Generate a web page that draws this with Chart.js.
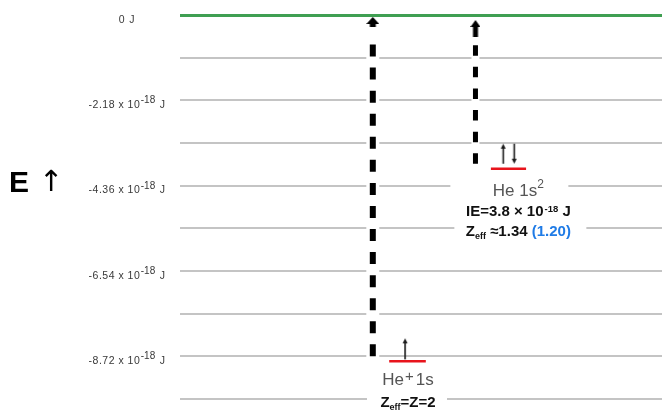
<!DOCTYPE html>
<html>
<head>
<meta charset="utf-8">
<script src="https://cdn.jsdelivr.net/npm/chart.js@4"></script>
<style>
  html, body { margin: 0; padding: 0; background: #fff; }
  canvas { display: block; }
</style>
</head>
<body>
<canvas id="chart" width="662" height="410"></canvas>
<script>
// Energies are in units of 1e-18 J.
const gridEnergies = [0, -1.09, -2.18, -3.27, -4.36, -5.45, -6.54, -7.63, -8.72, -9.81];
const labelledEnergies = [0, -2.18, -4.36, -6.54, -8.72];
const tickMantissas = ['0', '-2.18', '-4.36', '-6.54', '-8.72'];
const tickExponents = ['', '-18', '-18', '-18', '-18'];

// He+ 1s and He 1s2 levels
const levelEnergies = [-8.72, -3.8];
const ionizationEnergies = [8.72, 3.8];
const zEffective = ['2', '1.34'];
const zEffectiveAlt = ['', '1.20'];
const spinStates = [['up'], ['up', 'down']];

// Horizontal placement on a hidden 0..10 x axis
const place = {
  arrowX: [4.0, 6.13],
  levelX: [[4.34, 5.10], [6.45, 7.18]],
  spinX: [4.67, 6.82],
  textX: [4.73, 7.02],
  shaftGap: [0.54, 0.77],
  haloGap: [0.06, 0.1],
  haloWidth: [13, 8],
  shaftWidth: [6, 5],
  dash: [[12, 11.06], [10.5, 11.1]]
};
const LEVEL_DROP = 5;
const FONT = '"Liberation Sans", Arial, Helvetica, sans-serif';

function arrowHead(w, apex, base, stemEnd, stemW) {
  const h = 2 * (stemEnd + 2);
  const c = document.createElement('canvas');
  c.width = w; c.height = h;
  const g = c.getContext('2d');
  const cy = h / 2;
  g.fillStyle = '#000';
  g.beginPath();
  g.moveTo(w / 2, cy + apex);
  g.lineTo(w, cy + base);
  g.lineTo(0, cy + base);
  g.closePath();
  g.fill();
  g.fillRect(w / 2 - stemW / 2, cy + base - 0.5, stemW, stemEnd - base + 0.5);
  return c;
}
const heads = [arrowHead(13, 2, 9, 12, 6), arrowHead(10, 5, 12, 22, 5)];

function spinGlyph(dirs) {
  const w = dirs.length === 1 ? 8 : 20;
  const h = 60, cy = 30;
  const c = document.createElement('canvas');
  c.width = w; c.height = h;
  const g = c.getContext('2d');
  g.strokeStyle = '#1a1a1a';
  g.fillStyle = '#1a1a1a';
  g.lineWidth = 1.6;
  dirs.forEach((d, i) => {
    const x = dirs.length === 1 ? 4 : (i === 0 ? 4.5 : 15.5);
    const top = dirs.length === 1 ? cy - 23 : cy - 25;
    const bot = dirs.length === 1 ? cy - 2 : cy - 5;
    g.beginPath();
    if (d === 'up') { g.moveTo(x, bot); g.lineTo(x, top + 4); }
    else { g.moveTo(x, top); g.lineTo(x, bot - 4); }
    g.stroke();
    g.beginPath();
    if (d === 'up') { g.moveTo(x, top); g.lineTo(x + 2.5, top + 5); g.lineTo(x - 2.5, top + 5); }
    else { g.moveTo(x, bot); g.lineTo(x + 2.5, bot - 5); g.lineTo(x - 2.5, bot - 5); }
    g.closePath();
    g.fill();
  });
  return c;
}

const datasets = [];
levelEnergies.forEach((e, i) => {
  const ax = place.arrowX[i];
  const top = e + ionizationEnergies[i];
  // white gap around the ionization arrow
  datasets.push({
    data: [{ x: ax, y: e - 0.06 }, { x: ax, y: top - place.haloGap[i] }],
    borderColor: '#ffffff', borderWidth: place.haloWidth[i], borderCapStyle: 'butt',
    pointRadius: 0, order: 5
  });
  // dashed ionization arrow shaft
  datasets.push({
    data: [{ x: ax, y: e }, { x: ax, y: top - place.shaftGap[i] }],
    borderColor: '#000', borderWidth: place.shaftWidth[i], borderCapStyle: 'butt',
    borderDash: place.dash[i], pointRadius: 0, order: 4
  });
  // arrow head at the ionization limit
  datasets.push({
    data: [{ x: ax, y: top }],
    showLine: false, pointStyle: heads[i], pointRadius: 5, order: 3
  });
  // orbital level
  datasets.push({
    data: [{ x: place.levelX[i][0], y: e }, { x: place.levelX[i][1], y: e }],
    borderColor: '#e8141c', borderWidth: 2.5, borderCapStyle: 'butt',
    pointRadius: 0, order: 2, drop: LEVEL_DROP
  });
  // electron spins
  datasets.push({
    data: [{ x: place.spinX[i], y: e }],
    showLine: false, pointStyle: spinGlyph(spinStates[i]), pointRadius: 5, order: 1, drop: LEVEL_DROP
  });
});

function runs(ctx, parts, cx, by) {
  let w = 0;
  parts.forEach(p => {
    ctx.font = p.font;
    ctx.letterSpacing = p.ls || '0px';
    p.w = ctx.measureText(p.t).width + (p.gap || 0);
    w += p.w;
  });
  let x = cx - w / 2;
  parts.forEach(p => {
    ctx.font = p.font;
    ctx.letterSpacing = p.ls || '0px';
    ctx.fillStyle = p.color;
    ctx.fillText(p.t, x + (p.pre || 0), by + (p.dy || 0));
    x += p.w;
  });
  ctx.letterSpacing = '0px';
  return w;
}

const dropPlugin = {
  id: 'drop',
  beforeDatasetDraw(chart, args) {
    const d = chart.data.datasets[args.index].drop;
    if (d) { chart.ctx.save(); chart.ctx.translate(0, d); }
  },
  afterDatasetDraw(chart, args) {
    if (chart.data.datasets[args.index].drop) chart.ctx.restore();
  }
};

const labelPlugin = {
  id: 'labels',
  afterDatasetsDraw(chart) {
    const ctx = chart.ctx;
    const xs = chart.scales.x, ys = chart.scales.y;
    ctx.save();
    ctx.textAlign = 'left';
    ctx.textBaseline = 'alphabetic';

    // energy axis labels
    labelledEnergies.forEach((v, i) => {
      const py = ys.getPixelForValue(v);
      const c = '#383838';
      const parts = tickExponents[i]
        ? [{ t: tickMantissas[i] + ' x 10', font: '10.5px ' + FONT, color: c, ls: '0.5px', gap: 0.5 },
           { t: tickExponents[i], font: '10px ' + FONT, color: c, dy: -4.5, gap: 1 },
           { t: ' J', font: '10.5px ' + FONT, color: c, ls: '0.5px' }]
        : [{ t: tickMantissas[i] + ' J', font: '10.5px ' + FONT, color: c, ls: '0.8px' }];
      runs(ctx, parts, 127, py + 7.5);
    });

    // axis caption
    ctx.fillStyle = '#000';
    ctx.font = 'bold 30px ' + FONT;
    ctx.fillText('E', 9, 192);
    ctx.font = '29px "DejaVu Sans", ' + FONT;
    ctx.fillText('\u2191', 39, 191);

    const bold = s => 'bold ' + s + 'px ' + FONT;
    const plain = s => s + 'px ' + FONT;
    const box = (x0, x1, y0, y1) => { ctx.fillStyle = '#fff'; ctx.fillRect(x0, y0, x1 - x0, y1 - y0); };

    // He+ 1s
    {
      const cx = xs.getPixelForValue(place.textX[0]);
      const red = ys.getPixelForValue(levelEnergies[0]) + LEVEL_DROP;
      runs(ctx, [
        { t: 'He', font: plain(17), color: '#555' },
        { t: '+', font: plain(15), color: '#555', dy: -4.5, pre: 1, gap: 3 },
        { t: '1s', font: plain(17), color: '#555' }
      ], cx, red + 24);
      box(cx - 41, cx + 39, red + 33, red + 52);
      runs(ctx, [
        { t: 'Z', font: bold(15), color: '#111' },
        { t: 'eff', font: bold(9), color: '#111', dy: 3 },
        { t: '=Z=' + zEffective[0], font: bold(15), color: '#111' }
      ], cx, red + 46);
    }

    // He 1s2
    {
      const cx = xs.getPixelForValue(place.textX[1]);
      const red = ys.getPixelForValue(levelEnergies[1]) + LEVEL_DROP;
      box(cx - 68, cx + 50, red + 11, red + 31);
      runs(ctx, [
        { t: 'He 1s', font: plain(17), color: '#555' },
        { t: '2', font: plain(12), color: '#555', dy: -8 }
      ], cx, red + 27);
      runs(ctx, [
        { t: 'IE=' + ionizationEnergies[1].toFixed(1) + ' \u00d7 10', font: bold(15), color: '#111' },
        { t: '-18', font: bold(9.5), color: '#111', dy: -4, pre: 1, gap: 1 },
        { t: ' J', font: bold(15), color: '#111' }
      ], cx, red + 47);
      box(cx - 64, cx + 68, red + 53, red + 72);
      runs(ctx, [
        { t: 'Z', font: bold(15), color: '#111' },
        { t: 'eff', font: bold(9), color: '#111', dy: 3 },
        { t: ' \u22481.' + zEffective[1].split('.')[1] + ' ', font: bold(15), color: '#111' },
        { t: '(' + zEffectiveAlt[1] + ')', font: bold(15), color: '#1f7be6' }
      ], cx, red + 67);
    }
    ctx.restore();
  }
};

new Chart(document.getElementById('chart'), {
  type: 'line',
  data: { datasets },
  options: {
    responsive: false,
    animation: false,
    events: [],
    layout: { autoPadding: false, padding: { left: 180, right: 0, top: 15, bottom: 11 } },
    elements: { point: { pointBackgroundColor: '#000', borderWidth: 0 } },
    datasets: { line: { clip: false } },
    plugins: { legend: { display: false }, tooltip: { enabled: false } },
    scales: {
      x: { type: 'linear', min: 0, max: 10, display: false },
      y: {
        type: 'linear', min: -9.81, max: 0,
        afterBuildTicks: s => { s.ticks = gridEnergies.map(v => ({ value: v })); },
        ticks: { display: false },
        border: { display: false },
        grid: {
          drawTicks: false,
          color: c => (c.tick && c.tick.value === 0 ? '#3f9f52' : '#c4c4c4'),
          lineWidth: c => (c.tick && c.tick.value === 0 ? 3 : 2)
        }
      }
    }
  },
  plugins: [dropPlugin, labelPlugin]
});
</script>
</body>
</html>
